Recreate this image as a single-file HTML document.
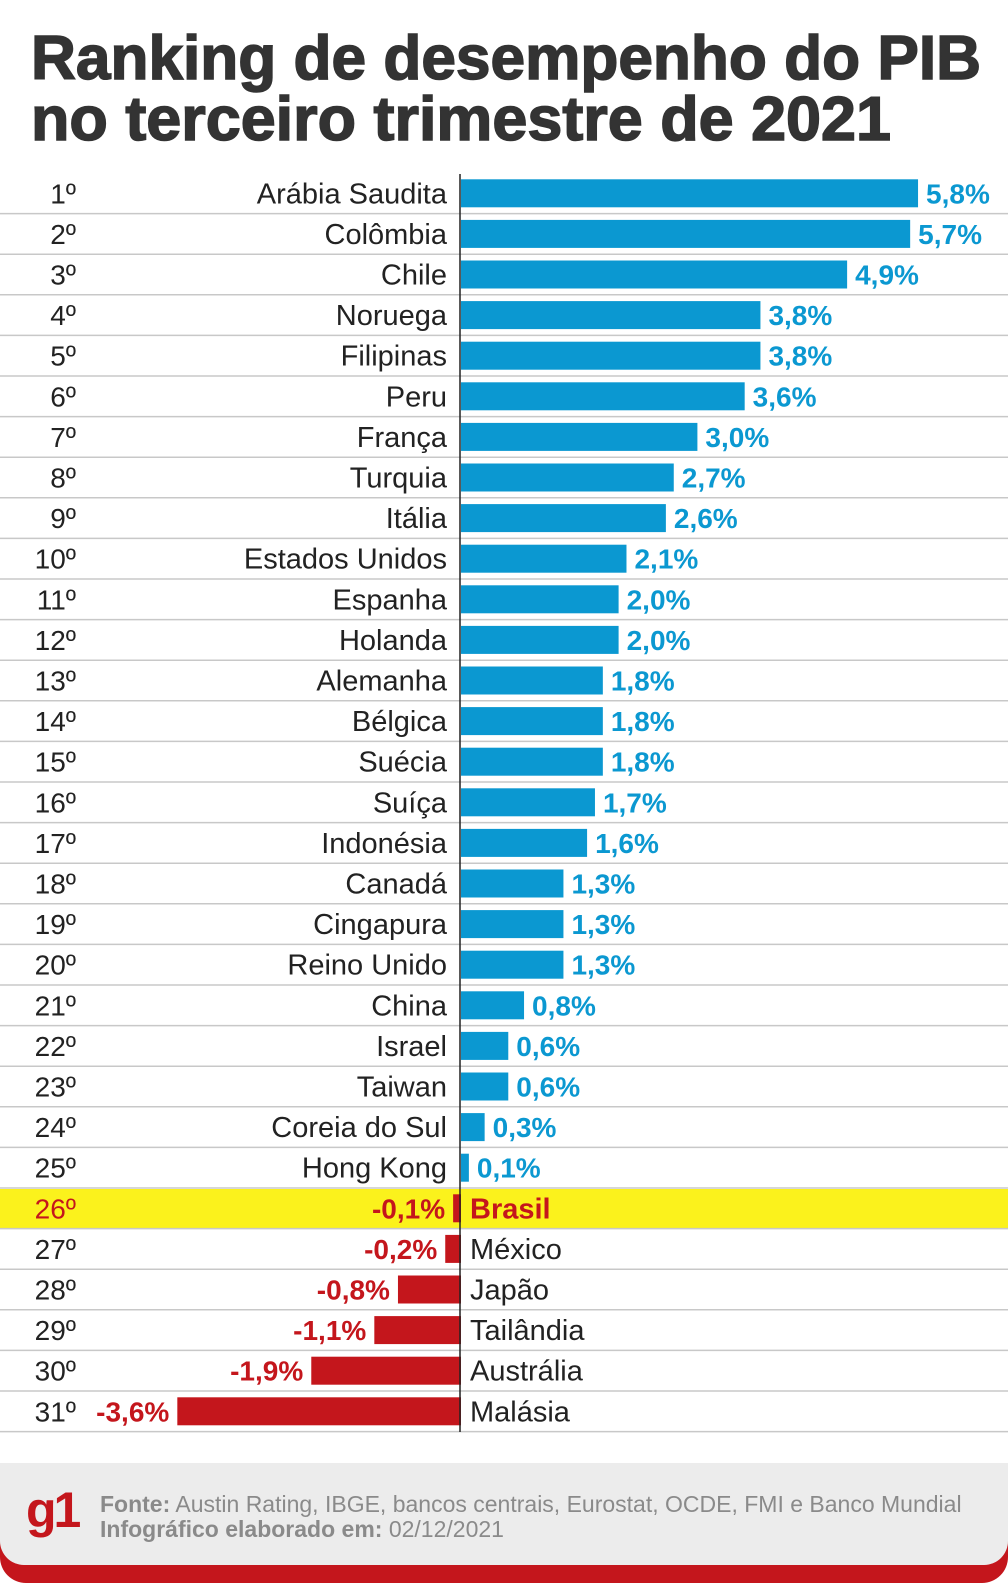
<!DOCTYPE html>
<html><head><meta charset="utf-8"><style>
html,body{margin:0;padding:0;background:#fff;}
svg{display:block;font-family:"Liberation Sans",sans-serif;}
</style></head><body>
<svg width="1008" height="1593" viewBox="0 0 1008 1593" xmlns="http://www.w3.org/2000/svg">
<text x="31" y="79" font-size="62" font-weight="bold" fill="#333" stroke="#333" stroke-width="1.5" textLength="950" lengthAdjust="spacingAndGlyphs">Ranking de desempenho do PIB</text>
<text x="31" y="140" font-size="62" font-weight="bold" fill="#333" stroke="#333" stroke-width="1.5" textLength="860" lengthAdjust="spacingAndGlyphs">no terceiro trimestre de 2021</text>
<g id="rows"></g>
<line x1="460" y1="174" x2="460" y2="1432" stroke="#222" stroke-width="1.5"/>
<rect x="0" y="1485" width="1008" height="98" rx="26" fill="#c4161c"/>
<rect x="0" y="1463" width="1008" height="102" rx="24" fill="#ececec"/>
<rect x="0" y="1463" width="1008" height="40" fill="#ececec"/>
<text x="26" y="1527" font-size="50" font-weight="bold" fill="#c4161c" letter-spacing="-3">g1</text>
<text x="100" y="1512" font-size="23" fill="#8a8a8a"><tspan font-weight="bold">Fonte:</tspan> Austin Rating, IBGE, bancos centrais, Eurostat, OCDE, FMI e Banco Mundial</text>
<text x="100" y="1537" font-size="23" fill="#8a8a8a"><tspan font-weight="bold">Infográfico elaborado em:</tspan> 02/12/2021</text>
</svg>
<script>
(function(){
var d=[["Arábia Saudita",5.8],["Colômbia",5.7],["Chile",4.9],["Noruega",3.8],["Filipinas",3.8],["Peru",3.6],["França",3.0],["Turquia",2.7],["Itália",2.6],["Estados Unidos",2.1],["Espanha",2.0],["Holanda",2.0],["Alemanha",1.8],["Bélgica",1.8],["Suécia",1.8],["Suíça",1.7],["Indonésia",1.6],["Canadá",1.3],["Cingapura",1.3],["Reino Unido",1.3],["China",0.8],["Israel",0.6],["Taiwan",0.6],["Coreia do Sul",0.3],["Hong Kong",0.1],["Brasil",-0.1],["México",-0.2],["Japão",-0.8],["Tailândia",-1.1],["Austrália",-1.9],["Malásia",-3.6]];
var s="",ax=461,k=78.8;
for(var i=0;i<d.length;i++){
 var ty=173+i*40.6,c=ty+20.3,bl=c+10,v=d[i][1],br=(i==25);
 var lab=v.toFixed(1).replace(".",",")+"%";
 if(br)s+='<rect x="0" y="'+(ty+1)+'" width="1008" height="39.6" fill="#fbf21c"/>';
 s+='<line x1="0" x2="1008" y1="'+(ty+40.6)+'" y2="'+(ty+40.6)+'" stroke="#c8c8c8" stroke-width="1.5"/>';
 s+='<text x="76" y="'+bl+'" font-size="28" text-anchor="end" fill="'+(br?"#c4161c":"#222")+'">'+(i+1)+'º</text>';
 var w=Math.abs(v)*k;
 if(v>0){
  s+='<rect x="'+ax+'" y="'+(c-14)+'" width="'+w+'" height="28" fill="#0b98d1"/>';
  s+='<text x="447" y="'+bl+'" font-size="29" text-anchor="end" fill="#222">'+d[i][0]+'</text>';
  s+='<text x="'+(ax+w+8)+'" y="'+bl+'" font-size="28" font-weight="bold" fill="#0b98d1">'+lab+'</text>';
 }else{
  s+='<rect x="'+(ax-w)+'" y="'+(c-14)+'" width="'+w+'" height="28" fill="#c4161c"/>';
  s+='<text x="'+(ax-w-8)+'" y="'+bl+'" font-size="28" font-weight="bold" text-anchor="end" fill="#c4161c">'+lab+'</text>';
  s+='<text x="470" y="'+bl+'" font-size="29" '+(br?'font-weight="bold" fill="#c4161c"':'fill="#222"')+'>'+d[i][0]+'</text>';
 }
}
document.getElementById("rows").innerHTML=s;
})();
</script>
</body></html>
